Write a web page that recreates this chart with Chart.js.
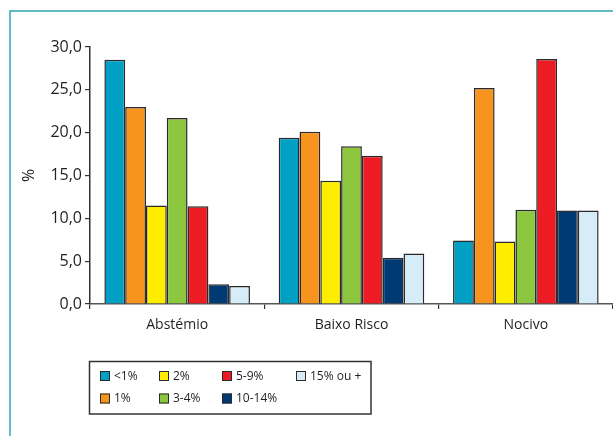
<!DOCTYPE html>
<html>
<head>
<meta charset="utf-8">
<script src="https://cdn.jsdelivr.net/npm/chart.js"></script>
<style>
    html, body { margin: 0; padding: 0; background: #ffffff; }
    #wrap { width: 613px; height: 436px; position: relative; }
</style>
</head>
<body>
<div id="wrap"><canvas id="consumoChart"></canvas></div>
<script>
// 資料
const categories = ['Abstémio', 'Baixo Risco', 'Nocivo'];
const seriesLabels = ['<1%', '1%', '2%', '3-4%', '5-9%', '10-14%', '15% ou +'];
const seriesValues = [
    [28.5, 19.4, 7.4],   // <1%
    [23.0, 20.1, 25.2],  // 1%
    [11.5, 14.4, 7.3],   // 2%
    [21.7, 18.4, 11.0],  // 3-4%
    [11.4, 17.3, 28.6],  // 5-9%
    [2.3, 5.4, 10.9],    // 10-14%
    [2.1, 5.9, 10.9]     // 15% ou +
];
const yTicks = [0, 5, 10, 15, 20, 25, 30];

// 顏色配置
const palette = {
    frame: '#2fa6b4',
    text: '#231f20',
    axis: '#333333',
    barBorder: '#2a2a2a',
    series: ['#009fc4', '#f7941d', '#ffed00', '#8dc63f', '#ed1c24', '#003a75', '#d6ecf9']
};

const FONT = '"Open Sans", "Noto Sans", sans-serif';

/**
 * 外框與 % 標題
 */
const framePlugin = {
    id: 'frame',
    beforeDraw(chart) {
        const ctx = chart.ctx;
        ctx.save();
        ctx.strokeStyle = palette.frame;
        ctx.lineWidth = 1.5;
        ctx.beginPath();
        ctx.moveTo(10, 436);
        ctx.lineTo(10, 11);
        ctx.lineTo(613, 11);
        ctx.stroke();
        ctx.restore();
    },
    afterDraw(chart) {
        const ctx = chart.ctx;
        const y = chart.scales.y;
        ctx.save();
        ctx.translate(29, (y.top + y.bottom) / 2 + 0);
        ctx.rotate(-Math.PI / 2);
        ctx.fillStyle = palette.text;
        ctx.font = '16px ' + FONT;
        ctx.textAlign = 'center';
        ctx.textBaseline = 'middle';
        ctx.fillText('%', 0, 0);
        ctx.restore();
    }
};

/**
 * 自訂圖例 (依欄排列)
 */
const legendPlugin = {
    id: 'boxLegend',
    afterDraw(chart) {
        const ctx = chart.ctx;
        const cols = [100, 159, 222, 296];
        const rows = [376, 398.5];
        ctx.save();
        ctx.strokeStyle = palette.axis;
        ctx.lineWidth = 1.5;
        ctx.strokeRect(89.5, 361.5, 281.5, 52.5);
        ctx.font = '12px ' + FONT;
        ctx.textBaseline = 'middle';
        chart.data.datasets.forEach((ds, i) => {
            const x = cols[Math.floor(i / 2)];
            const y = rows[i % 2];
            ctx.fillStyle = ds.backgroundColor;
            ctx.fillRect(x, y - 5, 10, 10);
            ctx.strokeStyle = palette.barBorder;
            ctx.lineWidth = 1;
            ctx.strokeRect(x + 0.5, y - 4.5, 9, 9);
            ctx.fillStyle = palette.text;
            ctx.fillText(ds.label, x + 14, y + 0.5);
        });
        ctx.restore();
    }
};

/**
 * 初始化長條圖
 */
function initializeChart() {
    const canvas = document.getElementById('consumoChart');
    if (!canvas) return;

    new Chart(canvas.getContext('2d'), {
        type: 'bar',
        data: {
            labels: categories,
            datasets: seriesLabels.map((label, i) => ({
                label: label,
                data: seriesValues[i],
                backgroundColor: palette.series[i],
                borderColor: palette.barBorder,
                borderWidth: 1.5,
                barPercentage: 1,
                categoryPercentage: 0.835
            }))
        },
        options: {
            responsive: true,
            maintainAspectRatio: false,
            animation: false,
            layout: { padding: { top: 47, left: 0, right: 0, bottom: 0 } },
            scales: {
                x: {
                    afterFit(scale) { scale.height = 132; },
                    grid: {
                        offset: true,
                        drawOnChartArea: false,
                        drawTicks: true,
                        tickLength: 5,
                        color: palette.axis,
                        lineWidth: 1.2
                    },
                    border: { display: true, color: '#555555', width: 1.5 },
                    ticks: {
                        color: palette.text,
                        font: { family: FONT, size: 14 },
                        padding: 8
                    }
                },
                y: {
                    min: 0,
                    max: 30,
                    afterFit(scale) { scale.width = 90; },
                    afterBuildTicks(scale) { scale.ticks = yTicks.map(v => ({ value: v })); },
                    grid: {
                        drawOnChartArea: false,
                        drawTicks: true,
                        tickLength: 5,
                        color: palette.axis,
                        lineWidth: 1.2
                    },
                    border: { display: true, color: palette.axis, width: 1.5 },
                    ticks: {
                        color: palette.text,
                        font: { family: FONT, size: 16 },
                        padding: 3,
                        callback: v => v.toFixed(1).replace('.', ',')
                    }
                }
            },
            plugins: {
                legend: { display: false },
                title: { display: false },
                tooltip: { enabled: false }
            }
        },
        plugins: [framePlugin, legendPlugin]
    });
}

document.addEventListener('DOMContentLoaded', function() {
    initializeChart();
});
</script>
</body>
</html>
